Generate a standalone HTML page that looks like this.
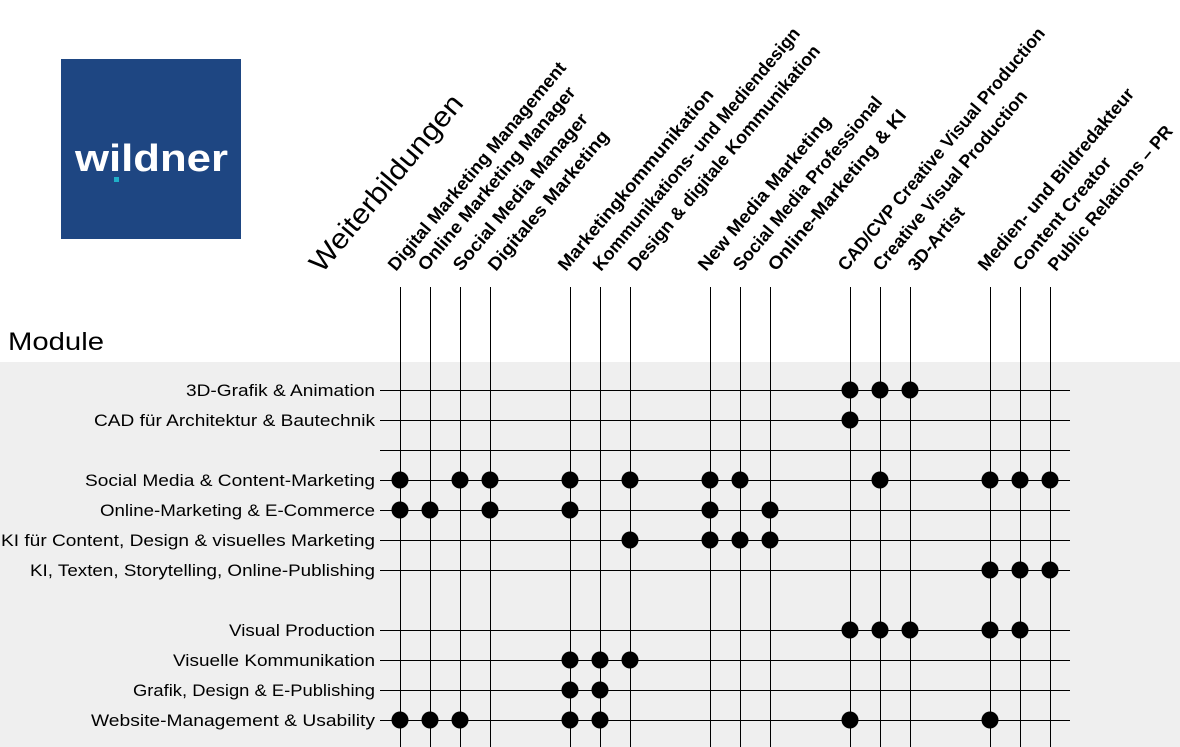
<!DOCTYPE html>
<html><head><meta charset="utf-8"><style>
body{margin:0;width:1180px;height:747px;background:#fff;overflow:hidden}
svg{display:block}
text{font-family:"Liberation Sans",sans-serif;fill:#000}
</style></head><body>
<svg width="1180" height="747" viewBox="0 0 1180 747">
<rect x="0" y="362" width="1180" height="385" fill="#efefef"/>
<rect x="61" y="59" width="180" height="180" fill="#1e4682"/>
<text x="75" y="171" font-size="38" font-weight="bold" textLength="153" lengthAdjust="spacingAndGlyphs" style="fill:#fff">wildner</text>
<rect x="114" y="177" width="5" height="5" fill="#1fb0c8"/>
<text x="8" y="350" font-size="25" textLength="96" lengthAdjust="spacingAndGlyphs">Module</text>
<g stroke="#000" stroke-width="1">
<line x1="380" y1="390.5" x2="1070" y2="390.5"/>
<line x1="380" y1="420.5" x2="1070" y2="420.5"/>
<line x1="380" y1="450.5" x2="1070" y2="450.5"/>
<line x1="380" y1="480.5" x2="1070" y2="480.5"/>
<line x1="380" y1="510.5" x2="1070" y2="510.5"/>
<line x1="380" y1="540.5" x2="1070" y2="540.5"/>
<line x1="380" y1="570.5" x2="1070" y2="570.5"/>
<line x1="380" y1="630.5" x2="1070" y2="630.5"/>
<line x1="380" y1="660.5" x2="1070" y2="660.5"/>
<line x1="380" y1="690.5" x2="1070" y2="690.5"/>
<line x1="380" y1="720.5" x2="1070" y2="720.5"/>
<line x1="400.5" y1="287" x2="400.5" y2="747"/><line x1="430.5" y1="287" x2="430.5" y2="747"/>
<line x1="460.5" y1="287" x2="460.5" y2="747"/><line x1="490.5" y1="287" x2="490.5" y2="747"/>
<line x1="570.5" y1="287" x2="570.5" y2="747"/><line x1="600.5" y1="287" x2="600.5" y2="747"/>
<line x1="630.5" y1="287" x2="630.5" y2="747"/><line x1="710.5" y1="287" x2="710.5" y2="747"/>
<line x1="740.5" y1="287" x2="740.5" y2="747"/><line x1="770.5" y1="287" x2="770.5" y2="747"/>
<line x1="850.5" y1="287" x2="850.5" y2="747"/><line x1="880.5" y1="287" x2="880.5" y2="747"/>
<line x1="910.5" y1="287" x2="910.5" y2="747"/><line x1="990.5" y1="287" x2="990.5" y2="747"/>
<line x1="1020.5" y1="287" x2="1020.5" y2="747"/><line x1="1050.5" y1="287" x2="1050.5" y2="747"/>
</g>
<g font-size="17" text-anchor="end">
<text x="375" y="396" textLength="189" lengthAdjust="spacingAndGlyphs">3D-Grafik &amp; Animation</text>
<text x="375" y="426" textLength="281" lengthAdjust="spacingAndGlyphs">CAD für Architektur &amp; Bautechnik</text>
<text x="375" y="486" textLength="290" lengthAdjust="spacingAndGlyphs">Social Media &amp; Content-Marketing</text>
<text x="375" y="516" textLength="275" lengthAdjust="spacingAndGlyphs">Online-Marketing &amp; E-Commerce</text>
<text x="375" y="546" textLength="374" lengthAdjust="spacingAndGlyphs">KI für Content, Design &amp; visuelles Marketing</text>
<text x="375" y="576" textLength="345" lengthAdjust="spacingAndGlyphs">KI, Texten, Storytelling, Online-Publishing</text>
<text x="375" y="636" textLength="146" lengthAdjust="spacingAndGlyphs">Visual Production</text>
<text x="375" y="666" textLength="202" lengthAdjust="spacingAndGlyphs">Visuelle Kommunikation</text>
<text x="375" y="696" textLength="242" lengthAdjust="spacingAndGlyphs">Grafik, Design &amp; E-Publishing</text>
<text x="375" y="726" textLength="284" lengthAdjust="spacingAndGlyphs">Website-Management &amp; Usability</text>
</g>
<text transform="translate(322,274) rotate(-50)" font-size="28" textLength="222" lengthAdjust="spacingAndGlyphs">Weiterbildungen</text>
<g font-size="18" font-weight="bold">
<text transform="translate(396,272) rotate(-50)" textLength="266" lengthAdjust="spacingAndGlyphs">Digital Marketing Management</text>
<text transform="translate(426,272) rotate(-50)" textLength="234" lengthAdjust="spacingAndGlyphs">Online Marketing Manager</text>
<text transform="translate(461,272) rotate(-50)" textLength="199" lengthAdjust="spacingAndGlyphs">Social Media Manager</text>
<text transform="translate(496,272) rotate(-50)" textLength="177" lengthAdjust="spacingAndGlyphs">Digitales Marketing</text>
<text transform="translate(566,272) rotate(-50)" textLength="231" lengthAdjust="spacingAndGlyphs">Marketingkommunikation</text>
<text transform="translate(601,272) rotate(-50)" textLength="311" lengthAdjust="spacingAndGlyphs">Kommunikations- und Mediendesign</text>
<text transform="translate(636,272) rotate(-50)" textLength="288" lengthAdjust="spacingAndGlyphs">Design &amp; digitale Kommunikation</text>
<text transform="translate(706,272) rotate(-50)" textLength="196" lengthAdjust="spacingAndGlyphs">New Media Marketing</text>
<text transform="translate(741,272) rotate(-50)" textLength="221" lengthAdjust="spacingAndGlyphs">Social Media Professional</text>
<text transform="translate(776,272) rotate(-50)" textLength="204" lengthAdjust="spacingAndGlyphs">Online-Marketing &amp; KI</text>
<text transform="translate(846,272) rotate(-50)" textLength="311" lengthAdjust="spacingAndGlyphs">CAD/CVP Creative Visual Production</text>
<text transform="translate(881,272) rotate(-50)" textLength="229" lengthAdjust="spacingAndGlyphs">Creative Visual Production</text>
<text transform="translate(916,272) rotate(-50)" textLength="77" lengthAdjust="spacingAndGlyphs">3D-Artist</text>
<text transform="translate(986,272) rotate(-50)" textLength="232" lengthAdjust="spacingAndGlyphs">Medien- und Bildredakteur</text>
<text transform="translate(1021,272) rotate(-50)" textLength="142" lengthAdjust="spacingAndGlyphs">Content Creator</text>
<text transform="translate(1056,272) rotate(-50)" textLength="183" lengthAdjust="spacingAndGlyphs">Public Relations – PR</text>
</g>
<g fill="#000">
<circle cx="850" cy="390" r="8.5"/><circle cx="880" cy="390" r="8.5"/><circle cx="910" cy="390" r="8.5"/>
<circle cx="850" cy="420" r="8.5"/>
<circle cx="400" cy="480" r="8.5"/><circle cx="460" cy="480" r="8.5"/><circle cx="490" cy="480" r="8.5"/><circle cx="570" cy="480" r="8.5"/><circle cx="630" cy="480" r="8.5"/><circle cx="710" cy="480" r="8.5"/><circle cx="740" cy="480" r="8.5"/><circle cx="880" cy="480" r="8.5"/><circle cx="990" cy="480" r="8.5"/><circle cx="1020" cy="480" r="8.5"/><circle cx="1050" cy="480" r="8.5"/>
<circle cx="400" cy="510" r="8.5"/><circle cx="430" cy="510" r="8.5"/><circle cx="490" cy="510" r="8.5"/><circle cx="570" cy="510" r="8.5"/><circle cx="710" cy="510" r="8.5"/><circle cx="770" cy="510" r="8.5"/>
<circle cx="630" cy="540" r="8.5"/><circle cx="710" cy="540" r="8.5"/><circle cx="740" cy="540" r="8.5"/><circle cx="770" cy="540" r="8.5"/>
<circle cx="990" cy="570" r="8.5"/><circle cx="1020" cy="570" r="8.5"/><circle cx="1050" cy="570" r="8.5"/>
<circle cx="850" cy="630" r="8.5"/><circle cx="880" cy="630" r="8.5"/><circle cx="910" cy="630" r="8.5"/><circle cx="990" cy="630" r="8.5"/><circle cx="1020" cy="630" r="8.5"/>
<circle cx="570" cy="660" r="8.5"/><circle cx="600" cy="660" r="8.5"/><circle cx="630" cy="660" r="8.5"/>
<circle cx="570" cy="690" r="8.5"/><circle cx="600" cy="690" r="8.5"/>
<circle cx="400" cy="720" r="8.5"/><circle cx="430" cy="720" r="8.5"/><circle cx="460" cy="720" r="8.5"/><circle cx="570" cy="720" r="8.5"/><circle cx="600" cy="720" r="8.5"/><circle cx="850" cy="720" r="8.5"/><circle cx="990" cy="720" r="8.5"/>
</g>
</svg>
</body></html>
